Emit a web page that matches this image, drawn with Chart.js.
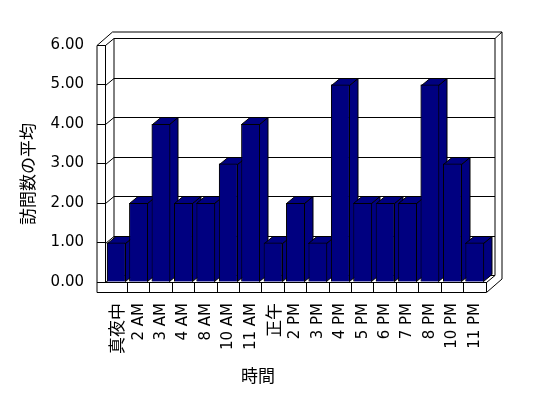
<!DOCTYPE html>
<html>
<head>
<meta charset="utf-8">
<script src="https://cdn.jsdelivr.net/npm/chart.js@4.4.0/dist/chart.umd.min.js"></script>
<style>
  html, body { margin: 0; padding: 0; background: #fff; }
</style>
</head>
<body>
<canvas id="visitsChart" width="548" height="398"></canvas>
<script>
// datos del gráfico
const hours = ['真夜中', '2 AM', '3 AM', '4 AM', '8 AM', '10 AM', '11 AM', '正午',
  '2 PM', '3 PM', '4 PM', '5 PM', '6 PM', '7 PM', '8 PM', '10 PM', '11 PM'];
const avgVisits = [1, 2, 4, 2, 2, 3, 4, 1, 2, 1, 5, 2, 2, 2, 5, 3, 1];
const yMin = 0;
const yMax = 6;
const yStep = 1;
const xTitle = '時間';
const yTitle = '訪問数の平均';

const BAR_COLOR = '#000080';
const LATIN_FONT = '"DejaVu Sans", "Noto Sans CJK JP", sans-serif';
const CJK_FONT = '"Noto Sans CJK JP", sans-serif';

// profundidad de la caja 3D (plano frontal -> pared de fondo)
const DX = 8.5, DY = -7;
// grosor de las paredes
const WX = 7, WY = -6.5;
const SIDE_W = 8.5;   // franja frontal de la pared izquierda
const FLOOR_H = 10;   // grosor del suelo

function line(ctx, pts) {
    ctx.beginPath();
    ctx.moveTo(pts[0][0], pts[0][1]);
    for (let i = 1; i < pts.length; i++) ctx.lineTo(pts[i][0], pts[i][1]);
    ctx.stroke();
}

function poly(ctx, pts) {
    ctx.beginPath();
    ctx.moveTo(pts[0][0], pts[0][1]);
    for (let i = 1; i < pts.length; i++) ctx.lineTo(pts[i][0], pts[i][1]);
    ctx.closePath();
    ctx.fill();
    ctx.stroke();
}

const box3d = {
    id: 'box3d',
    // paredes, suelo y líneas de cuadrícula detrás de las barras
    beforeDatasetsDraw(chart) {
        const { ctx, chartArea: a, scales: { y } } = chart;
        const L = a.left + 0.5, R = a.right + 0.5, T = a.top + 0.5, B = a.bottom + 0.5;
        const OL = L - SIDE_W;
        ctx.save();
        ctx.strokeStyle = '#000';
        ctx.lineWidth = 1;

        y.ticks.forEach(t => {
            const py = Math.round(y.getPixelForValue(t.value)) + 0.5;
            line(ctx, [[L, py], [L + DX, py + DY], [R + DX, py + DY]]);
        });
        // esquina pared izquierda / fondo
        line(ctx, [[L + DX, T + DY], [L + DX, B + DY]]);
        // pared izquierda
        line(ctx, [[OL, T], [OL, B + FLOOR_H]]);
        line(ctx, [[OL, T], [L, T]]);
        line(ctx, [[OL, T], [L + DX + WX - SIDE_W, T + DY + WY], [R + DX + WX, T + DY + WY],
            [R + DX + WX, B + FLOOR_H + DY + WY]]);
        line(ctx, [[R + DX, T + DY], [R + DX + WX, T + DY + WY]]);
        line(ctx, [[R + DX, T + DY], [R + DX, B + DY], [R, B]]);
        // suelo
        line(ctx, [[OL, B], [L, B]]);
        line(ctx, [[OL, B + FLOOR_H], [R, B + FLOOR_H], [R + DX + WX, B + FLOOR_H + DY + WY]]);
        ctx.restore();
    },
    // caras laterales y superiores, luego se redibuja el frente en orden
    afterDatasetsDraw(chart) {
        const ctx = chart.ctx;
        const meta = chart.getDatasetMeta(0);
        ctx.save();
        ctx.fillStyle = BAR_COLOR;
        ctx.strokeStyle = '#000';
        ctx.lineWidth = 1;
        meta.data.forEach(bar => {
            const { x, y, base, width } = bar.getProps(['x', 'y', 'base', 'width'], true);
            const l = Math.round(x - width / 2) + 0.5;
            const r = Math.round(x + width / 2) - 0.5;
            const top = Math.round(y) + 0.5;
            const bot = Math.round(base) - 0.5;
            poly(ctx, [[r, top], [r + DX, top + DY], [r + DX, bot + DY], [r, bot]]);
            poly(ctx, [[l, top], [l + DX, top + DY], [r + DX, top + DY], [r, top]]);
            bar.draw(ctx, chart.chartArea);
        });
        ctx.restore();
    },
    afterDraw(chart) {
        const ctx = chart.ctx;
        ctx.save();
        ctx.fillStyle = '#000';
        ctx.font = '17px ' + CJK_FONT;
        ctx.textAlign = 'center';
        ctx.textBaseline = 'middle';
        ctx.fillText(xTitle, 258, 376);
        ctx.translate(28, 174);
        ctx.rotate(-Math.PI / 2);
        ctx.fillText(yTitle, 0, 0);
        ctx.restore();
    }
};

const isCJK = s => /[^\x00-\x7f]/.test(String(s || ''));

new Chart(document.getElementById('visitsChart'), {
    type: 'bar',
    data: {
        labels: hours,
        datasets: [{
            data: avgVisits,
            backgroundColor: BAR_COLOR,
            borderColor: '#000',
            borderWidth: 1,
            barPercentage: 0.84,
            categoryPercentage: 1
        }]
    },
    options: {
        responsive: false,
        animation: false,
        devicePixelRatio: 1,
        layout: { padding: { top: 45, right: 62, left: 0, bottom: 0 } },
        plugins: {
            legend: { display: false },
            tooltip: { enabled: false }
        },
        scales: {
            x: {
                offset: true,
                afterFit: s => { s.height = 116; },
                grid: {
                    offset: true,
                    drawOnChartArea: false,
                    tickLength: 10,
                    color: c => c.index === 0 ? 'rgba(0,0,0,0)' : '#000'
                },
                border: { display: true, color: '#000' },
                ticks: {
                    autoSkip: false,
                    minRotation: 90,
                    maxRotation: 90,
                    padding: 11,
                    color: '#000',
                    font: c => isCJK(c.tick && c.tick.label)
                        ? { family: CJK_FONT, size: 17 }
                        : { family: LATIN_FONT, size: 15 }
                }
            },
            y: {
                min: yMin,
                max: yMax,
                afterFit: s => { s.width = 105; },
                grid: {
                    drawOnChartArea: false,
                    tickLength: 8,
                    color: '#000'
                },
                border: { display: true, color: '#000' },
                ticks: {
                    stepSize: yStep,
                    padding: 13,
                    color: '#000',
                    font: { family: LATIN_FONT, size: 15 },
                    callback: v => Number(v).toFixed(2)
                }
            }
        }
    },
    plugins: [box3d]
});
</script>
</body>
</html>
